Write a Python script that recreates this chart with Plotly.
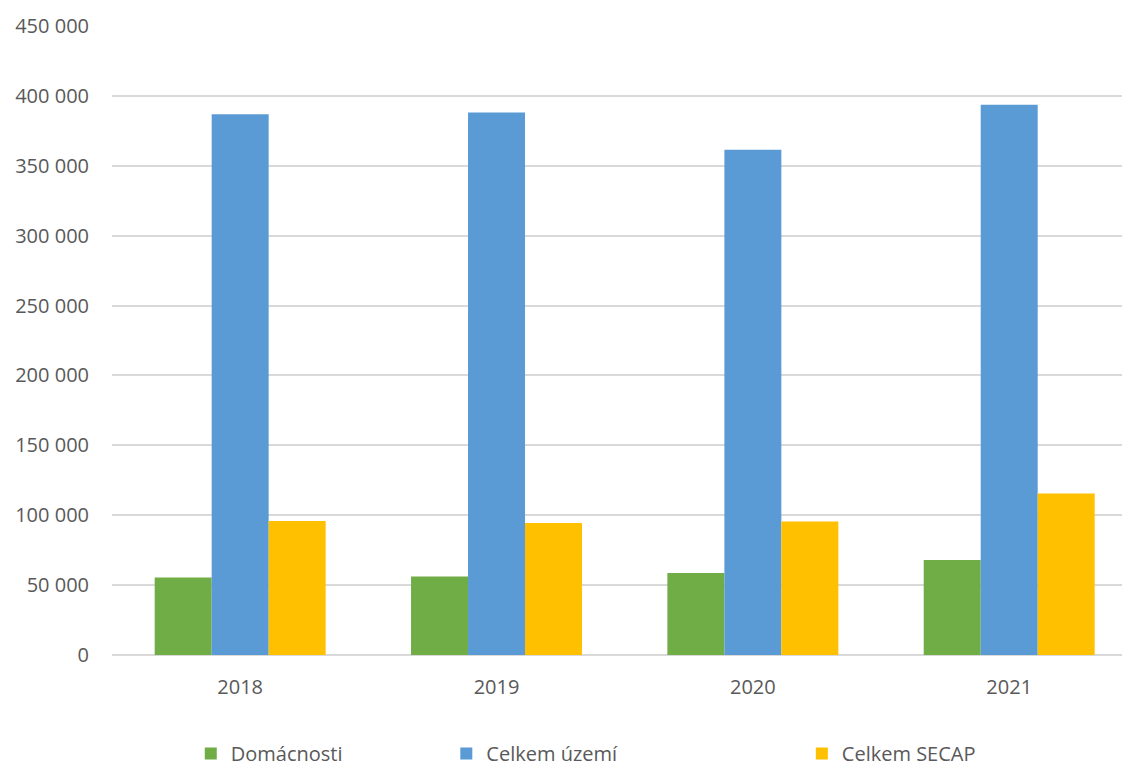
import plotly.graph_objects as go

# Roky a hodnoty jednotlivých řad
years = ["2018", "2019", "2020", "2021"]
domacnosti = [55500, 56200, 58600, 67900]
celkem_uzemi = [386900, 388100, 361400, 393600]
celkem_secap = [95900, 94500, 95500, 115500]

tick_vals = [0, 50000, 100000, 150000, 200000, 250000, 300000, 350000, 400000, 450000]
tick_text = ["0", "50 000", "100 000", "150 000", "200 000", "250 000",
             "300 000", "350 000", "400 000", "450 000"]

font_family = "Open Sans"
font_size = 20
text_color = "#595959"

fig = go.Figure()
fig.add_trace(go.Bar(x=years, y=domacnosti, name="Domácnosti", showlegend=True,
                     marker_color="#70ad47", marker_line_width=0, legend="legend"))
fig.add_trace(go.Bar(x=years, y=celkem_uzemi, name="Celkem území", showlegend=True,
                     marker_color="#5b9bd5", marker_line_width=0, legend="legend2"))
fig.add_trace(go.Bar(x=years, y=celkem_secap, name="Celkem SECAP", showlegend=True,
                     marker_color="#ffc000", marker_line_width=0, legend="legend3"))

legend_common = dict(orientation="h", yanchor="middle", y=-0.1565, xanchor="left",
                     font=dict(family=font_family, size=font_size, color=text_color),
                     bgcolor="rgba(0,0,0,0)", itemwidth=30)

fig.update_layout(
    width=1126, height=767,
    margin=dict(l=112, r=4, t=26, b=112, autoexpand=False),
    plot_bgcolor="white", paper_bgcolor="white",
    showlegend=True,
    barmode="group", bargap=0.333, bargroupgap=0,
    font=dict(family=font_family, size=font_size, color=text_color),
    legend=dict(legend_common, x=0.078),
    legend2=dict(legend_common, x=0.331),
    legend3=dict(legend_common, x=0.683),
    xaxis=dict(range=[-0.5, 3.44], showgrid=False, ticks="", showline=False,
               ticklabelstandoff=18,
               tickfont=dict(family=font_family, size=font_size, color=text_color)),
    yaxis=dict(range=[0, 450000], tickvals=tick_vals, ticktext=tick_text,
               showgrid=True, gridcolor="#d9d9d9", gridwidth=1.5,
               zeroline=True, zerolinecolor="#d9d9d9", zerolinewidth=1.5,
               showline=False, ticks="", ticklabelstandoff=22,
               tickfont=dict(family=font_family, size=font_size, color=text_color)),
)

fig.write_html("out.html")
